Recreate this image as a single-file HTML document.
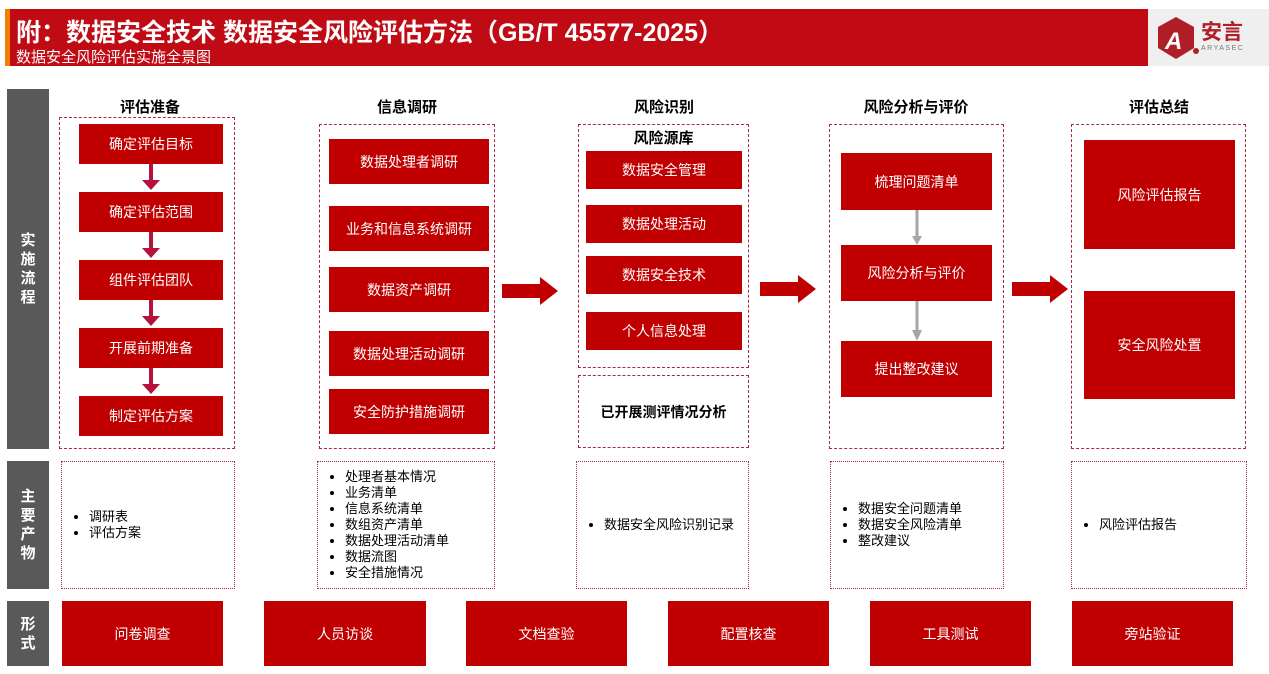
<!DOCTYPE html>
<html><head><meta charset="utf-8"><style>
*{margin:0;padding:0;box-sizing:border-box}
body{width:1269px;height:674px;background:#fff;position:relative;overflow:hidden;font-family:"Liberation Sans","Noto Sans CJK SC",sans-serif}
.a{position:absolute}
.r{position:absolute;background:#c00000;color:#fff;font-size:14px;display:flex;align-items:center;justify-content:center}
.d{position:absolute;border:1.5px dashed #a8284a}
.p{position:absolute;border:1px dotted #a8284a;font-size:13px;color:#000;display:flex;align-items:center}
.p ul{margin-left:27px;line-height:16px}
.t{position:absolute;font-weight:bold;font-size:15px;text-align:center;width:200px}
.g{position:absolute;background:#595959;color:#fff;font-weight:bold;font-size:15px;display:flex;align-items:center;justify-content:center;text-align:center;line-height:19px}
.da{position:absolute;width:4px;background:#b5123e}
.da:after{content:"";position:absolute;left:-7px;bottom:-6px;border-left:9px solid transparent;border-right:9px solid transparent;border-top:10px solid #b5123e}
</style></head><body>
<div class="a" style="left:5px;top:9px;width:1143px;height:57px;background:#c00a14"></div>
<div class="a" style="left:5px;top:9px;width:5px;height:57px;background:#f08000"></div>
<div class="a" style="left:16px;top:13px;color:#fff;font-weight:bold;font-size:25px;white-space:nowrap">附：数据安全技术 数据安全风险评估方法（GB/T 45577-2025）</div>
<div class="a" style="left:16px;top:46px;color:#fff;font-size:15px">数据安全风险评估实施全景图</div>
<div class="a" style="left:1148px;top:9px;width:121px;height:57px;background:#efefef"></div>
<svg class="a" style="left:1153px;top:15px" width="46" height="46"><polygon points="23,2 41,12 41,33 23,44 5,33 5,12" fill="#b01e28"/><text x="12" y="34" fill="#fff" font-size="24" font-weight="bold" font-style="italic" font-family="Liberation Sans">A</text><circle cx="43" cy="36" r="3" fill="#b01e28"/></svg>
<div class="a" style="left:1201px;top:16px;color:#b01e28;font-weight:bold;font-size:21px">安言</div>
<div class="a" style="left:1201px;top:45px;color:#777;font-size:7px;letter-spacing:1.5px">ARYASEC</div>

<div class="g" style="left:7px;top:89px;width:42px;height:360px">实<br>施<br>流<br>程</div>
<div class="g" style="left:7px;top:461px;width:42px;height:128px">主<br>要<br>产<br>物</div>
<div class="g" style="left:7px;top:601px;width:42px;height:65px">形<br>式</div>

<div class="t" style="left:50px;top:96px">评估准备</div>
<div class="t" style="left:307px;top:96px">信息调研</div>
<div class="t" style="left:564px;top:96px">风险识别</div>
<div class="t" style="left:816px;top:96px">风险分析与评价</div>
<div class="t" style="left:1059px;top:96px">评估总结</div>

<div class="d" style="left:59px;top:117px;width:176px;height:332px"></div>
<div class="r" style="left:79px;top:124px;width:144px;height:40px">确定评估目标</div>
<div class="r" style="left:79px;top:192px;width:144px;height:40px">确定评估范围</div>
<div class="r" style="left:79px;top:260px;width:144px;height:40px">组件评估团队</div>
<div class="r" style="left:79px;top:328px;width:144px;height:40px">开展前期准备</div>
<div class="r" style="left:79px;top:396px;width:144px;height:40px">制定评估方案</div>
<div class="da" style="left:149px;top:164px;height:20px"></div>
<div class="da" style="left:149px;top:232px;height:20px"></div>
<div class="da" style="left:149px;top:300px;height:20px"></div>
<div class="da" style="left:149px;top:368px;height:20px"></div>

<div class="d" style="left:319px;top:124px;width:176px;height:325px"></div>
<div class="r" style="left:329px;top:139px;width:160px;height:45px">数据处理者调研</div>
<div class="r" style="left:329px;top:206px;width:160px;height:45px">业务和信息系统调研</div>
<div class="r" style="left:329px;top:267px;width:160px;height:45px">数据资产调研</div>
<div class="r" style="left:329px;top:331px;width:160px;height:45px">数据处理活动调研</div>
<div class="r" style="left:329px;top:389px;width:160px;height:45px">安全防护措施调研</div>

<div class="d" style="left:578px;top:124px;width:171px;height:244px"></div>
<div class="a" style="left:578px;top:127px;width:171px;text-align:center;font-weight:bold;font-size:15px">风险源库</div>
<div class="r" style="left:586px;top:151px;width:156px;height:38px">数据安全管理</div>
<div class="r" style="left:586px;top:205px;width:156px;height:38px">数据处理活动</div>
<div class="r" style="left:586px;top:256px;width:156px;height:38px">数据安全技术</div>
<div class="r" style="left:586px;top:312px;width:156px;height:38px">个人信息处理</div>
<div class="d" style="left:578px;top:375px;width:171px;height:73px;display:flex;align-items:center;justify-content:center;font-weight:bold;font-size:14px">已开展测评情况分析</div>

<div class="d" style="left:829px;top:124px;width:175px;height:325px"></div>
<div class="r" style="left:841px;top:153px;width:151px;height:57px">梳理问题清单</div>
<div class="r" style="left:841px;top:245px;width:151px;height:56px">风险分析与评价</div>
<div class="r" style="left:841px;top:341px;width:151px;height:56px">提出整改建议</div>
<svg class="a" style="left:908px;top:210px" width="18" height="131"><line x1="9" y1="0" x2="9" y2="28" stroke="#a6a6a6" stroke-width="3"/><polygon points="4,26 14,26 9,35" fill="#a6a6a6"/><line x1="9" y1="91" x2="9" y2="122" stroke="#a6a6a6" stroke-width="3"/><polygon points="4,120 14,120 9,131" fill="#a6a6a6"/></svg>

<div class="d" style="left:1071px;top:124px;width:175px;height:325px"></div>
<div class="r" style="left:1084px;top:140px;width:151px;height:109px">风险评估报告</div>
<div class="r" style="left:1084px;top:291px;width:151px;height:108px">安全风险处置</div>

<svg class="a" style="left:500px;top:275px" width="60" height="32"><polygon points="2,9 40,9 40,2 58,16 40,30 40,23 2,23" fill="#c00000"/></svg>
<svg class="a" style="left:758px;top:273px" width="60" height="32"><polygon points="2,9 40,9 40,2 58,16 40,30 40,23 2,23" fill="#c00000"/></svg>
<svg class="a" style="left:1010px;top:273px" width="60" height="32"><polygon points="2,9 40,9 40,2 58,16 40,30 40,23 2,23" fill="#c00000"/></svg>

<div class="p" style="left:61px;top:461px;width:174px;height:128px"><ul><li>调研表</li><li>评估方案</li></ul></div>
<div class="p" style="left:317px;top:461px;width:178px;height:128px"><ul><li>处理者基本情况</li><li>业务清单</li><li>信息系统清单</li><li>数组资产清单</li><li>数据处理活动清单</li><li>数据流图</li><li>安全措施情况</li></ul></div>
<div class="p" style="left:576px;top:461px;width:173px;height:128px"><ul><li>数据安全风险识别记录</li></ul></div>
<div class="p" style="left:830px;top:461px;width:174px;height:128px"><ul><li>数据安全问题清单</li><li>数据安全风险清单</li><li>整改建议</li></ul></div>
<div class="p" style="left:1071px;top:461px;width:176px;height:128px"><ul><li>风险评估报告</li></ul></div>

<div class="r" style="left:62px;top:601px;width:161px;height:65px">问卷调查</div>
<div class="r" style="left:264px;top:601px;width:162px;height:65px">人员访谈</div>
<div class="r" style="left:466px;top:601px;width:161px;height:65px">文档查验</div>
<div class="r" style="left:668px;top:601px;width:161px;height:65px">配置核查</div>
<div class="r" style="left:870px;top:601px;width:161px;height:65px">工具测试</div>
<div class="r" style="left:1072px;top:601px;width:161px;height:65px">旁站验证</div>
</body></html>
